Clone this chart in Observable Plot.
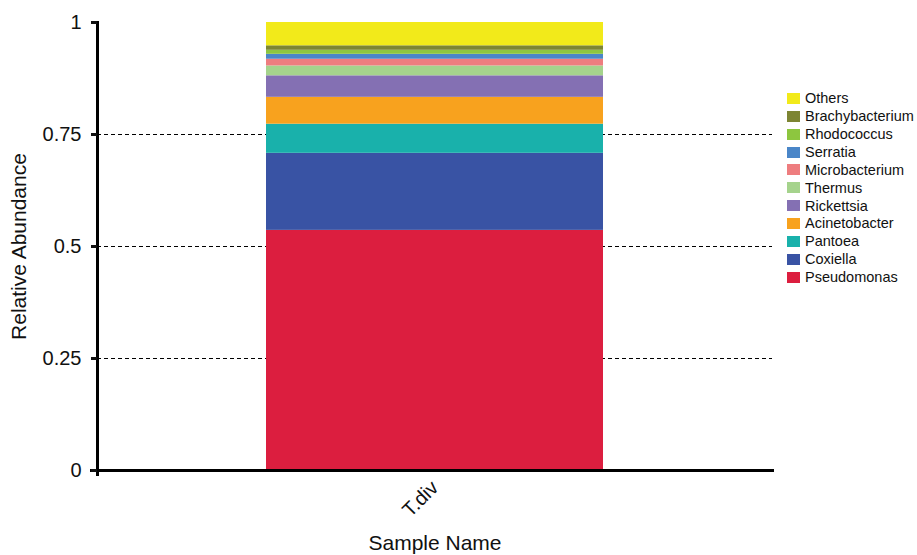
<!DOCTYPE html>
<html>
<head>
<meta charset="utf-8">
<script src="https://cdn.jsdelivr.net/npm/d3@7"></script>
<script src="https://cdn.jsdelivr.net/npm/@observablehq/plot@0.6"></script>
<style>
  html, body { margin: 0; padding: 0; background: #fff; }
  #wrap { position: relative; width: 917px; height: 555px; font-family: "Liberation Sans", Arial, Helvetica, sans-serif; }
  #legend { position: absolute; left: 787px; top: 89.5px; font-size: 14.5px; color: #111; }
  .row { display: flex; align-items: center; height: 17.87px; white-space: nowrap; }
  .sw { width: 13px; height: 11px; margin-right: 5px; flex: none; }
</style>
</head>
<body>
<div id="wrap"><div id="legend"></div></div>
<script>
// Data
const samples = ["T.div"];
const taxa = ["Pseudomonas", "Coxiella", "Pantoea", "Acinetobacter", "Rickettsia", "Thermus",
              "Microbacterium", "Serratia", "Rhodococcus", "Brachybacterium", "Others"];
const abundance = [0.536, 0.172, 0.065, 0.060, 0.048, 0.022, 0.015, 0.011, 0.009, 0.010, 0.052];
const colors = ["#DC1E3F", "#3953A4", "#19B1AB", "#F8A21E", "#8470B3", "#A5D38C",
                "#EE7D7F", "#4A86C8", "#8DC63F", "#7D8533", "#F2EA1A"];
const yTicks = [0, 0.25, 0.5, 0.75, 1];
const gridTicks = [0.25, 0.5, 0.75];

const data = taxa.map((t, i) => ({sample: samples[0], taxon: t, value: abundance[i]}));

const plot = Plot.plot({
  width: 917,
  height: 555,
  marginLeft: 97,
  marginRight: 145,
  marginTop: 22,
  marginBottom: 85,
  style: {fontFamily: '"Liberation Sans", Arial, Helvetica, sans-serif', color: "#111", background: "#fff"},
  x: {domain: samples, paddingInner: 0, paddingOuter: 0.5, axis: null},
  y: {domain: [0, 1], axis: null},
  color: {domain: taxa, range: colors},
  marks: [
    Plot.ruleY(gridTicks, {stroke: "#000", strokeWidth: 1, strokeDasharray: "4,3"}),
    Plot.barY(data, {x: "sample", y: "value", fill: "taxon", order: taxa}),
    Plot.frame({anchor: "left", stroke: "#000", strokeWidth: 3, insetBottom: -4}),
    Plot.frame({anchor: "bottom", stroke: "#000", strokeWidth: 3, insetLeft: -6}),
    Plot.axisY({ticks: yTicks, tickFormat: d => String(d), tickSize: 6, tickPadding: 10,
                strokeWidth: 3, fontSize: 20, label: null}),
    Plot.axisX({tickSize: 0, tickPadding: 14, tickRotate: -45, fontSize: 20, label: null}),
    Plot.text(["Relative Abundance"], {frameAnchor: "left", textAnchor: "middle", rotate: -90, dx: -78, fontSize: 21, fill: "#111"}),
    Plot.text(["Sample Name"], {frameAnchor: "bottom", dy: 79, fontSize: 21, fill: "#111"})
  ]
});
document.getElementById("wrap").prepend(plot);

const legend = document.getElementById("legend");
for (let i = taxa.length - 1; i >= 0; i--) {
  const row = document.createElement("div");
  row.className = "row";
  const sw = document.createElement("span");
  sw.className = "sw";
  sw.style.background = colors[i];
  const label = document.createElement("span");
  label.textContent = taxa[i];
  row.append(sw, label);
  legend.append(row);
}
</script>
</body>
</html>
